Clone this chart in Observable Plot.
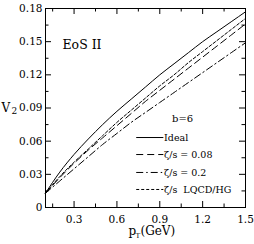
<!DOCTYPE html>
<html><head><meta charset="utf-8">
<script src="https://cdn.jsdelivr.net/npm/d3@7"></script>
<script src="https://cdn.jsdelivr.net/npm/@observablehq/plot@0.6"></script>
<style>body{margin:0;background:#fff}</style>
</head><body><div id="chart"></div>
<script>
const pT         = [0.1, 0.2, 0.3, 0.4, 0.5, 0.6, 0.7, 0.8, 0.9, 1.0, 1.1, 1.2, 1.3, 1.4, 1.5];
const v2Ideal    = [0.013, 0.032, 0.048, 0.062, 0.075, 0.087, 0.098, 0.109, 0.120, 0.130, 0.140, 0.150, 0.159, 0.168, 0.177];
const v2LQCD     = [0.013, 0.028, 0.041, 0.053, 0.065, 0.077, 0.088, 0.099, 0.110, 0.120, 0.131, 0.141, 0.151, 0.161, 0.171];
const v2Zeta008  = [0.013, 0.027, 0.040, 0.052, 0.063, 0.074, 0.085, 0.096, 0.106, 0.116, 0.126, 0.136, 0.146, 0.156, 0.166];
const v2Zeta02   = [0.013, 0.024, 0.035, 0.046, 0.057, 0.067, 0.077, 0.086, 0.095, 0.104, 0.113, 0.122, 0.131, 0.140, 0.149];
const seriesNames = ["Ideal", "ζ/s = 0.08", "ζ/s = 0.2", "ζ/s\u00a0\u00a0LQCD/HG"];
const xMajor = [0.3, 0.6, 0.9, 1.2, 1.5];
const xMinor = [0.15, 0.45, 0.75, 1.05, 1.35];
const yMajor = [0, 0.03, 0.06, 0.09, 0.12, 0.15, 0.18];
const yMinor = [0.015, 0.045, 0.075, 0.105, 0.135, 0.165];
const xTickLabels = ["0.3", "0.6", "0.9", "1.2", "1.5"];
const yTickLabels = ["0", "0.03", "0.06", "0.09", "0.12", "0.15", "0.18"];
const annotation = "EoS II";
const legendTitle = "b=6";

const seriesValues = [v2Ideal, v2Zeta008, v2Zeta02, v2LQCD];
const dashStyle = {"Ideal": null, "ζ/s = 0.08": "7,4", "ζ/s = 0.2": "7,3,1.5,3", "ζ/s\u00a0\u00a0LQCD/HG": "3,2"};
const rows = seriesNames.flatMap((s, i) => pT.map((x, j) => ({series: s, pT: x, v2: seriesValues[i][j]})));

const W = 254, H = 244, mL = 45, mR = 9, mT = 8, mB = 37;
const iH = H - mT - mB, iW = W - mL - mR;
const font = "DejaVu Serif";

// legend placed in data units (inside plot, lower right)
const legY = [0.0633, 0.0479, 0.0317, 0.0163];
const legend = seriesNames.map((s, i) => ({series: s, y: legY[i]}));

const marks = [
  Plot.frame({stroke: "black", strokeWidth: 1}),
  Plot.tickX(xMajor, {x: d => d, insetTop: iH - 6, stroke: "black"}),
  Plot.tickX(xMinor, {x: d => d, insetTop: iH - 3.5, stroke: "black"}),
  Plot.tickX(xMajor, {x: d => d, insetBottom: iH - 6, stroke: "black"}),
  Plot.tickX(xMinor, {x: d => d, insetBottom: iH - 3.5, stroke: "black"}),
  Plot.tickY(yMajor, {y: d => d, insetRight: iW - 6, stroke: "black"}),
  Plot.tickY(yMinor, {y: d => d, insetRight: iW - 3.5, stroke: "black"}),
  Plot.tickY(yMajor, {y: d => d, insetLeft: iW - 6, stroke: "black"}),
  Plot.tickY(yMinor, {y: d => d, insetLeft: iW - 3.5, stroke: "black"}),
  Plot.axisX(xMajor, {tickSize: 0, tickPadding: 8, tickFormat: (d, i) => xTickLabels[i], label: null, fontSize: 10.5}),
  Plot.axisY(yMajor, {tickSize: 0, tickPadding: 3, tickFormat: (d, i) => yTickLabels[i], label: null, fontSize: 10.5}),
];
for (const s of seriesNames) {
  marks.push(Plot.line(rows.filter(r => r.series === s), {x: "pT", y: "v2", stroke: "black", strokeWidth: 1, strokeDasharray: dashStyle[s], curve: "monotone-x"}));
}
for (const l of legend) {
  marks.push(Plot.link([l], {x1: 0.735, x2: 0.925, y1: "y", y2: "y", stroke: "black", strokeWidth: 1, strokeDasharray: dashStyle[l.series]}));
}
marks.push(
  Plot.text(legend, {x: 0.93, y: "y", text: "series", textAnchor: "start", fontSize: 9.5}),
  Plot.text([legendTitle], {x: 1.06, y: 0.0805, text: d => d, fontSize: 10}),
  Plot.text([annotation], {frameAnchor: "top-left", dx: 17, dy: 32, text: d => d, fontSize: 12.5, textAnchor: "start"}),
  Plot.text(["V"], {frameAnchor: "left", dx: -44, dy: 0, text: d => d, fontSize: 12, textAnchor: "start"}),
  Plot.text(["2"], {frameAnchor: "left", dx: -34, dy: 3, text: d => d, fontSize: 9, textAnchor: "start"}),
  Plot.text(["p"], {frameAnchor: "bottom", dx: -17, dy: 27, text: d => d, fontSize: 12, textAnchor: "start"}),
  Plot.text(["T"], {frameAnchor: "bottom", dx: -10, dy: 30, text: d => d, fontSize: 7, textAnchor: "start"}),
  Plot.text(["(GeV)"], {frameAnchor: "bottom", dx: -5, dy: 27, text: d => d, fontSize: 12, textAnchor: "start"})
);

const chart = Plot.plot({
  width: W, height: H,
  marginLeft: mL, marginRight: mR, marginTop: mT, marginBottom: mB,
  style: {fontFamily: font, background: "white", color: "black", overflow: "visible"},
  x: {domain: [0.1, 1.5], axis: null},
  y: {domain: [0, 0.18], axis: null},
  marks
});
document.getElementById("chart").appendChild(chart);
</script>
</body></html>
